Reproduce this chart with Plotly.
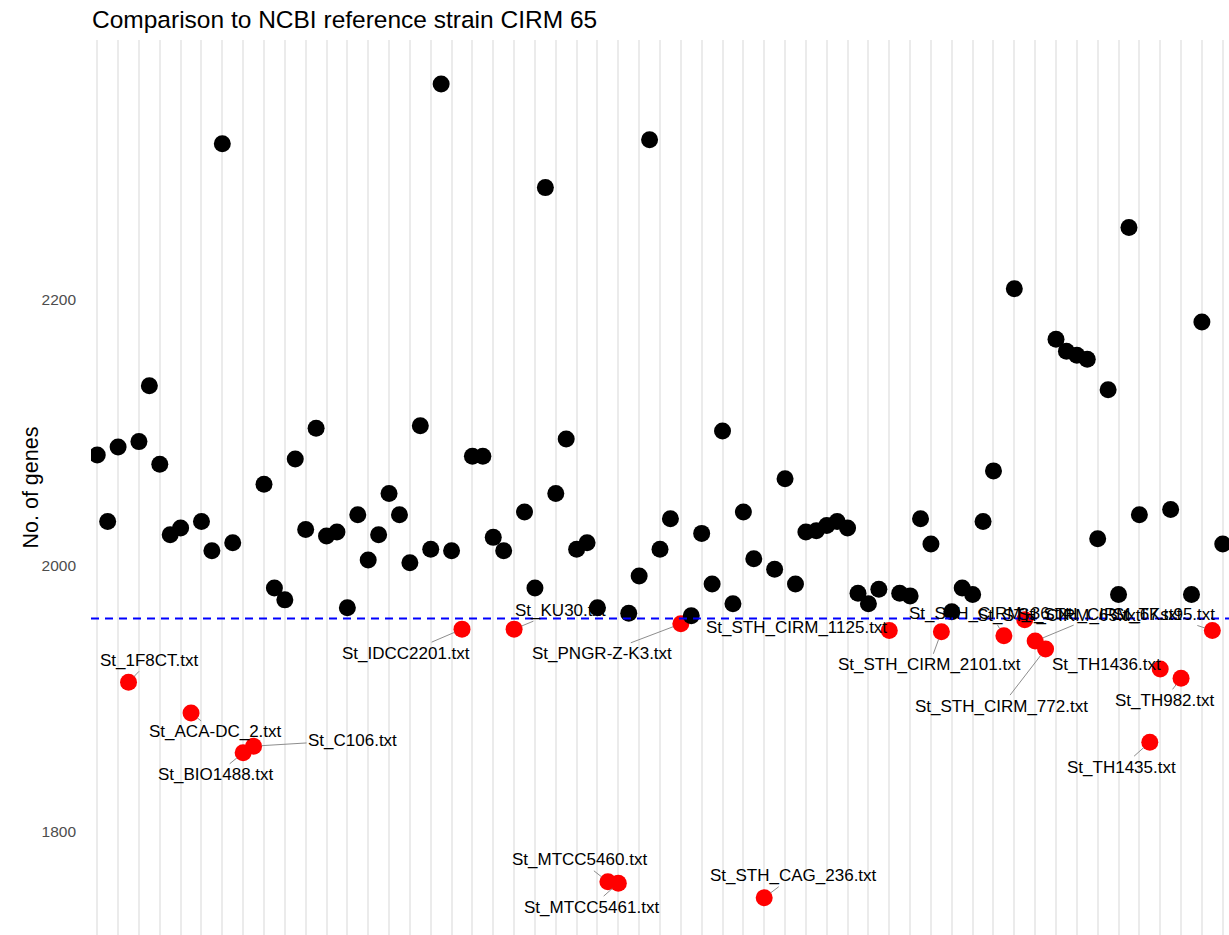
import plotly.graph_objects as go

# Gene counts per strain genome file (ordered as on the x axis)
strains = [
    "St_A01.txt", "St_A02.txt", "St_A03.txt", "St_1F8CT.txt", "St_A05.txt",
    "St_A06.txt", "St_A07.txt", "St_A08.txt", "St_A09.txt", "St_ACA-DC_2.txt",
    "St_A11.txt", "St_A12.txt", "St_A13.txt", "St_A14.txt", "St_BIO1488.txt",
    "St_C106.txt", "St_A17.txt", "St_A18.txt", "St_A19.txt", "St_A20.txt",
    "St_A21.txt", "St_A22.txt", "St_A23.txt", "St_A24.txt", "St_A25.txt",
    "St_A26.txt", "St_A27.txt", "St_A28.txt", "St_A29.txt", "St_A30.txt",
    "St_A31.txt", "St_A32.txt", "St_A33.txt", "St_A34.txt", "St_A35.txt",
    "St_IDCC2201.txt", "St_A37.txt", "St_A38.txt", "St_A39.txt", "St_A40.txt",
    "St_KU30.txt", "St_A42.txt", "St_A43.txt", "St_A44.txt", "St_A45.txt",
    "St_A46.txt", "St_A47.txt", "St_A48.txt", "St_A49.txt", "St_MTCC5460.txt",
    "St_MTCC5461.txt", "St_A52.txt", "St_A53.txt", "St_A54.txt", "St_A55.txt",
    "St_A56.txt", "St_PNGR-Z-K3.txt", "St_A58.txt", "St_A59.txt", "St_A60.txt",
    "St_A61.txt", "St_A62.txt", "St_A63.txt", "St_A64.txt", "St_STH_CAG_236.txt",
    "St_A66.txt", "St_A67.txt", "St_A68.txt", "St_A69.txt", "St_A70.txt",
    "St_A71.txt", "St_A72.txt", "St_A73.txt", "St_A74.txt", "St_A75.txt",
    "St_A76.txt", "St_STH_CIRM_1125.txt", "St_A78.txt", "St_A79.txt", "St_A80.txt",
    "St_A81.txt", "St_STH_CIRM_2101.txt", "St_A83.txt", "St_A84.txt", "St_A85.txt",
    "St_A86.txt", "St_A87.txt", "St_STH_CIRM_36.txt", "St_A89.txt", "St_STH_CIRM_65.txt",
    "St_STH_CIRM_67.txt", "St_STH_CIRM_772.txt", "St_A93.txt", "St_A94.txt", "St_A95.txt",
    "St_A96.txt", "St_A97.txt", "St_A98.txt", "St_A99.txt", "St_B00.txt",
    "St_B01.txt", "St_TH1435.txt", "St_TH1436.txt", "St_B04.txt", "St_TH982.txt",
    "St_B06.txt", "St_B07.txt", "St_TKst95.txt", "St_B09.txt",
]

gene_counts = [
    2083, 2033, 2089, 1912, 2093, 2135, 2076, 2023, 2028, 1889,
    2033, 2011, 2317, 2017, 1859, 1864, 2061, 1983, 1974, 2080,
    2027, 2103, 2022, 2025, 1968, 2038, 2004, 2023, 2054, 2038,
    2002, 2105, 2012, 2362, 2011, 1952, 2082, 2082, 2021, 2011,
    1952, 2040, 1983, 2284, 2054, 2095, 2012, 2017, 1968, 1762,
    1761, 1964, 1992, 2320, 2012, 2035, 1956, 1962, 2024, 1986,
    2101, 1971, 2040, 2005, 1750, 1997, 2065, 1986, 2025, 2026,
    2030, 2033, 2028, 1979, 1971, 1982, 1951, 1979, 1977, 2035,
    2016, 1950, 1965, 1983, 1978, 2033, 2071, 1947, 2208, 1959,
    1943, 1937, 2170, 2161, 2158, 2155, 2020, 2132, 1978, 2254,
    2038, 1867, 1922, 2042, 1915, 1978, 2183, 1951, 2016,
]

# Gene count of the reference genome
reference_count = 1960

y_ticks = [1800, 2000, 2200]

# Label placement (pixel offset of label centre from its point)
label_offsets = {
    "St_1F8CT.txt": (21, -22),
    "St_ACA-DC_2.txt": (24, 19),
    "St_BIO1488.txt": (-27, 22),
    "St_C106.txt": (99, -6),
    "St_IDCC2201.txt": (-56, 24),
    "St_KU30.txt": (46, -19),
    "St_MTCC5460.txt": (-28, -22),
    "St_MTCC5461.txt": (-27, 24),
    "St_PNGR-Z-K3.txt": (-79, 30),
    "St_STH_CAG_236.txt": (29, -22),
    "St_STH_CIRM_1125.txt": (-93, -3),
    "St_STH_CIRM_2101.txt": (-12, 33),
    "St_STH_CIRM_36.txt": (-13, -22),
    "St_STH_CIRM_65.txt": (34, -4),
    "St_STH_CIRM_67.txt": (65, -27),
    "St_STH_CIRM_772.txt": (-44, 57),
    "St_TH1435.txt": (-28, 25),
    "St_TH1436.txt": (-54, -5),
    "St_TH982.txt": (-17, 22),
    "St_TKst95.txt": (-48, -16),
}

below = [c < reference_count for c in gene_counts]
colors = ["#FF0000" if b else "#000000" for b in below]

fig = go.Figure()
fig.add_trace(go.Scatter(
    x=strains, y=gene_counts, mode="markers",
    marker=dict(size=17, color=colors, line=dict(width=0)),
    showlegend=False, hoverinfo="x+y",
))

fig.add_shape(
    type="line", xref="paper", x0=0, x1=1, yref="y",
    y0=reference_count, y1=reference_count,
    line=dict(color="#0000FF", width=2, dash="8px,6px"),
    layer="above",
)

for name, count, b in zip(strains, gene_counts, below):
    if not b:
        continue
    ax, ay = label_offsets.get(name, (0, -20))
    fig.add_annotation(
        x=name, y=count, text=name, showarrow=True,
        ax=ax, ay=ay, axref="pixel", ayref="pixel",
        arrowhead=0, arrowwidth=0.9, arrowcolor="#808080", standoff=8,
        font=dict(family="Liberation Sans, Arial, sans-serif", size=17, color="#000000"),
    )

fig.add_annotation(
    xref="paper", yref="paper", x=-0.0536, y=0.5,
    text="No. of genes", textangle=-90, showarrow=False,
    xanchor="center", yanchor="middle",
    font=dict(family="Liberation Sans, Arial, sans-serif", size=21.5, color="#000000"),
)

fig.update_layout(
    width=1229, height=935,
    margin=dict(l=91, r=0, t=40, b=0),
    paper_bgcolor="white", plot_bgcolor="white",
    font=dict(family="Liberation Sans, Arial, sans-serif"),
    title=dict(
        text="Comparison to NCBI reference strain CIRM 65",
        x=92 / 1229, xanchor="left", xref="container",
        y=1 - 19 / 935, yanchor="middle", yref="container",
        font=dict(size=24.5, color="#000000"),
    ),
    xaxis=dict(
        type="category", categoryorder="array", categoryarray=strains,
        range=[-0.6, len(strains) - 0.4],
        showgrid=True, gridcolor="#EBEBEB", gridwidth=1.5,
        showticklabels=False, ticks="", zeroline=False, showline=False,
    ),
    yaxis=dict(
        range=[1722, 2395], tickvals=y_ticks,
        showgrid=False, zeroline=False, showline=False, ticks="",
        ticklabelstandoff=14,
        tickfont=dict(size=15.5, color="#4D4D4D"),
    ),
)

fig.write_html("out.html")
